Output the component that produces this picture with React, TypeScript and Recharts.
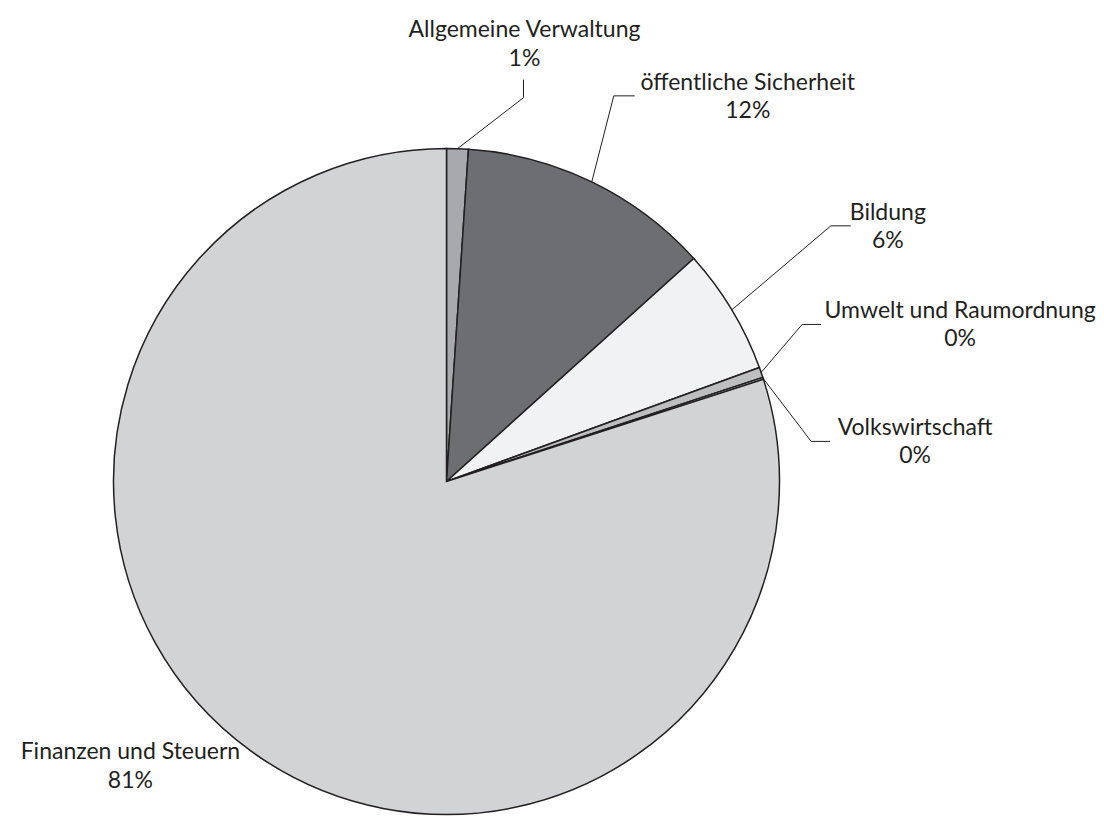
import { Cell, Pie, PieChart } from "recharts";

// Ausgaben nach Aufgabenbereich (Anteile in %)
const categories = [
  "Allgemeine Verwaltung",
  "öffentliche Sicherheit",
  "Bildung",
  "Umwelt und Raumordnung",
  "Volkswirtschaft",
  "Finanzen und Steuern",
];
const shares = [1.05, 12.27, 6.12, 0.5, 0.1, 79.96];
const percentLabels = ["1%", "12%", "6%", "0%", "0%", "81%"];

const sliceColors = ["#a7a9ac", "#6d6e71", "#f1f2f3", "#bcbec0", "#939598", "#d1d3d4"];
const ink = "#231f20";

// label placement relative to the slice's edge point (style only)
type LabelLayout = {
  elbow?: [number, number];
  end?: [number, number];
  textDx: number;
  baselines: [number, number];
};
const labelLayout: LabelLayout[] = [
  { elbow: [66, -51], end: [66, -69], textDx: 1, baselines: [-43, -14] },
  { elbow: [22, -86], end: [43, -86], textDx: 113, baselines: [-6, 22] },
  { elbow: [99, -84], end: [119, -84], textDx: 37, baselines: [-6, 22] },
  { elbow: [41, -48], end: [60, -48], textDx: 139, baselines: [-6, 22] },
  { elbow: [48, 63], end: [67, 63], textDx: 85, baselines: [-6, 22] },
  { textDx: -120, baselines: [8, 37] },
];

const data = categories.map((name, i) => ({ name, value: shares[i], pct: percentLabels[i] }));

const RAD = Math.PI / 180;

const renderLabel = (props: any) => {
  const { cx, cy, midAngle, outerRadius, index } = props;
  const ax = cx + outerRadius * Math.cos(-midAngle * RAD);
  const ay = cy + outerRadius * Math.sin(-midAngle * RAD);
  const layout = labelLayout[index];
  let tx = ax;
  let ty = ay;
  let line = null;
  if (layout.elbow && layout.end) {
    const ex = ax + layout.elbow[0];
    const ey = ay + layout.elbow[1];
    tx = ax + layout.end[0];
    ty = ay + layout.end[1];
    line = (
      <polyline
        points={`${ax},${ay} ${ex},${ey} ${tx},${ty}`}
        fill="none"
        stroke={ink}
        strokeWidth={1}
      />
    );
  }
  const x = tx + layout.textDx;
  return (
    <g key={`label-${index}`}>
      {line}
      <text x={x} y={ty + layout.baselines[0]} textAnchor="middle" fill={ink} fontSize={23} fontFamily="Lato">
        {data[index].name}
      </text>
      <text x={x} y={ty + layout.baselines[1]} textAnchor="middle" fill={ink} fontSize={23} fontFamily="Lato">
        {data[index].pct}
      </text>
    </g>
  );
};

export default function App() {
  return (
    <div style={{ position: "absolute", left: 0, top: 0, background: "#fff" }}>
      <PieChart width={1104} height={817}>
        <Pie
          data={data}
          dataKey="value"
          nameKey="name"
          cx={441.5}
          cy={476.5}
          outerRadius={333}
          startAngle={90}
          endAngle={-270}
          stroke={ink}
          strokeWidth={1.5}
          label={renderLabel}
          labelLine={false}
          isAnimationActive={false}
        >
          {data.map((entry, i) => (
            <Cell key={entry.name} fill={sliceColors[i]} />
          ))}
        </Pie>
      </PieChart>
    </div>
  );
}
